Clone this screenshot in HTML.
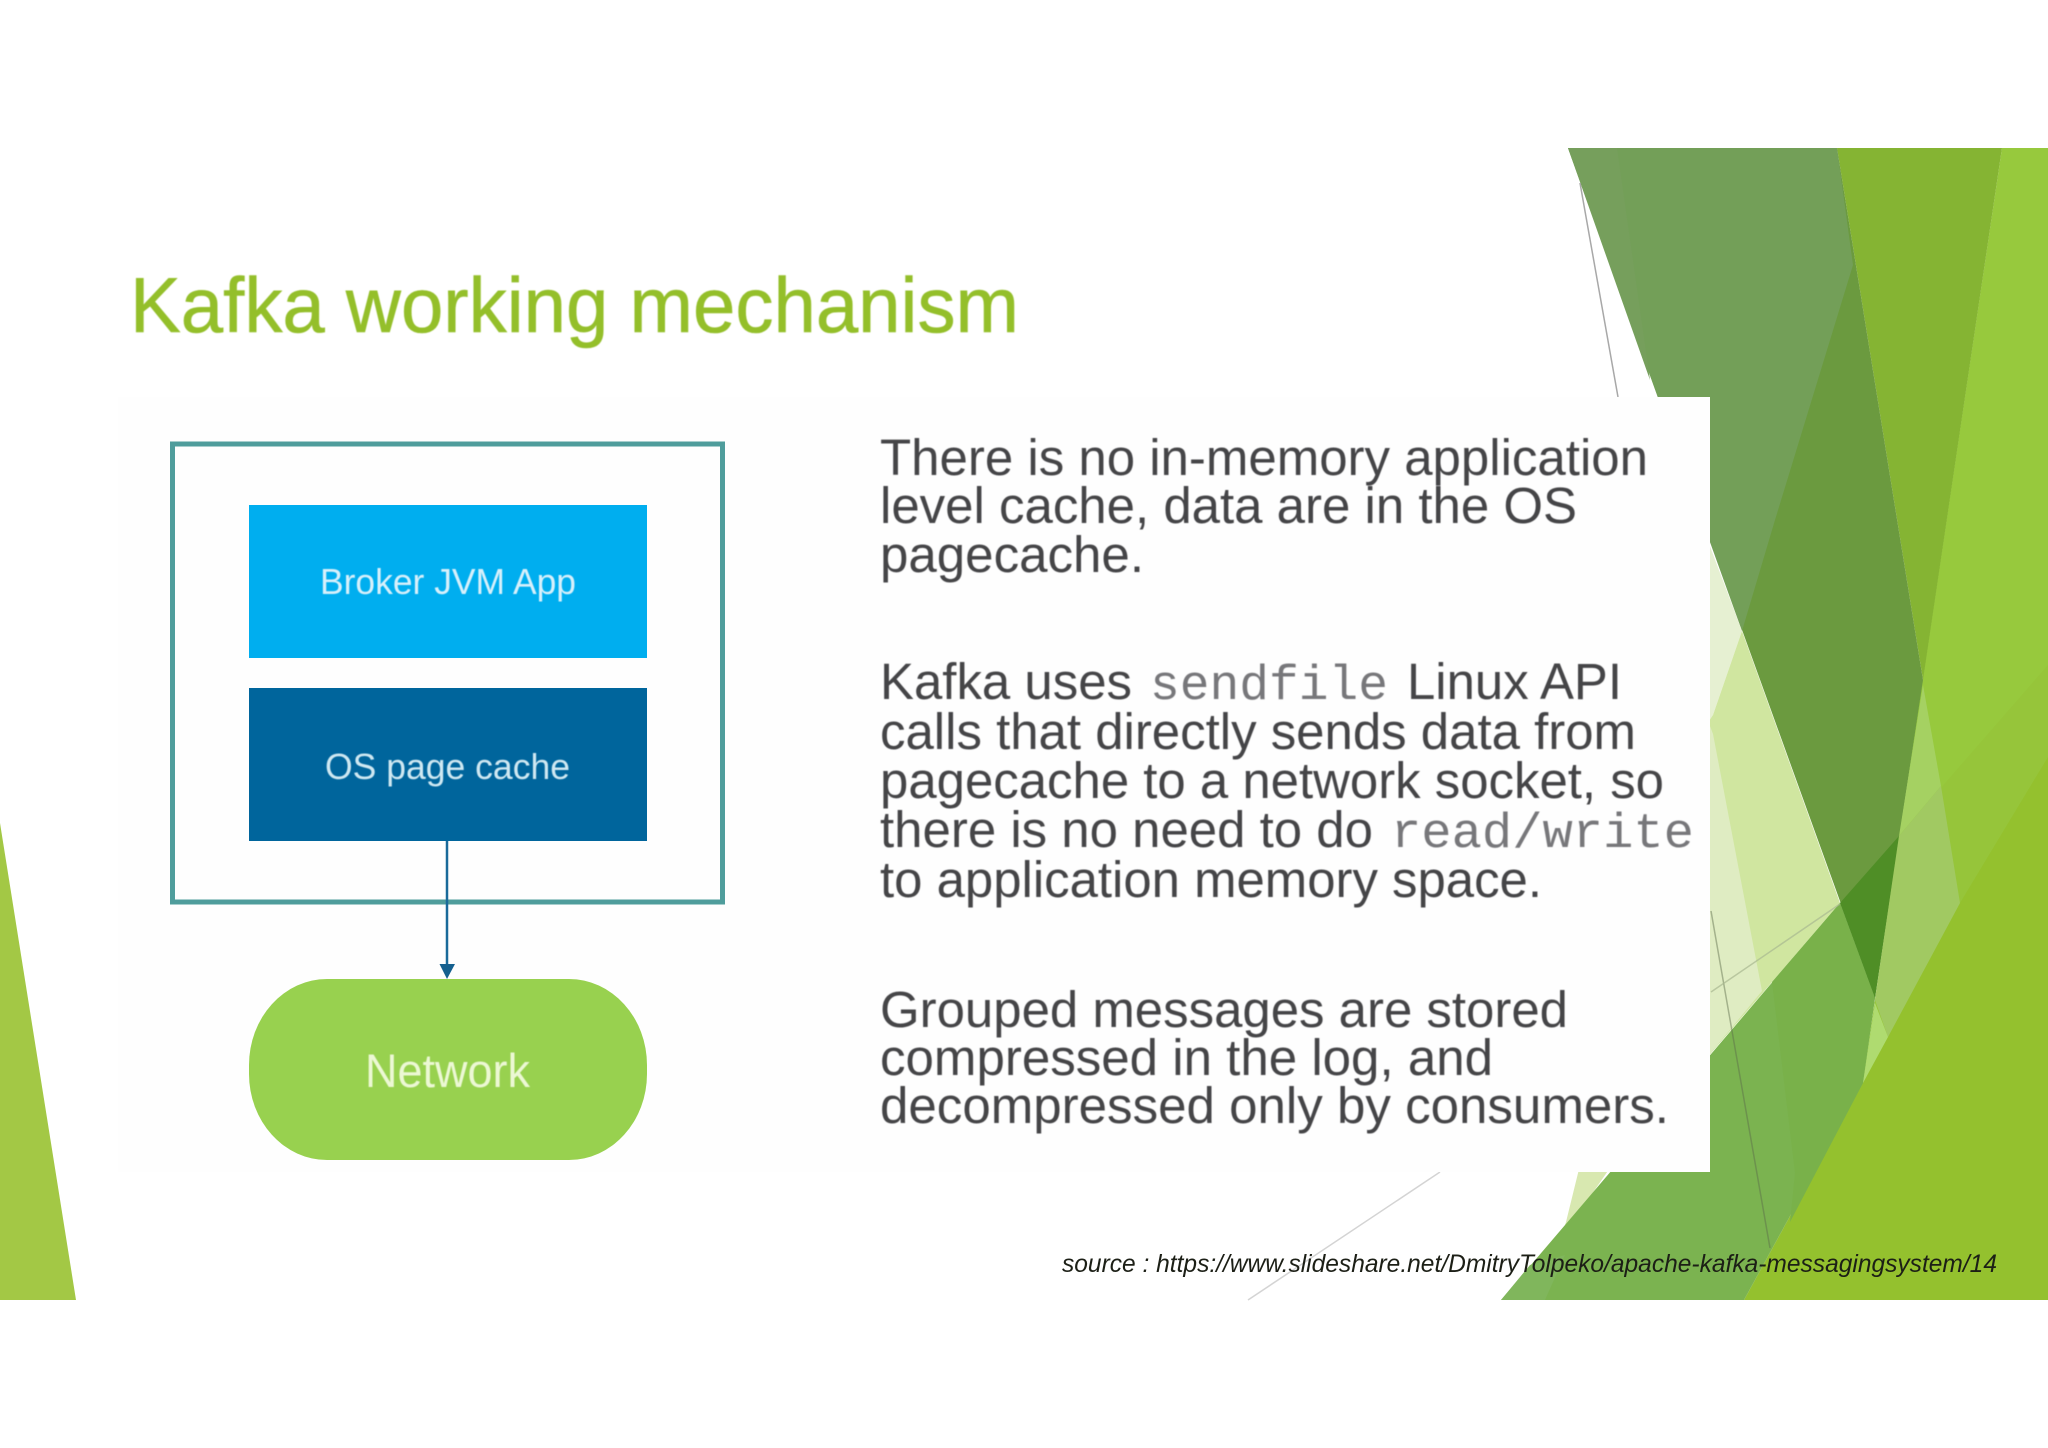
<!DOCTYPE html>
<html><head><meta charset="utf-8"><title>Kafka working mechanism</title>
<style>html,body{margin:0;padding:0;background:#fff;width:2048px;height:1448px;overflow:hidden}svg{display:block}
.b{font-family:"Liberation Sans",sans-serif;font-size:51px;fill:#444447}
.m{font-family:"Liberation Mono",monospace;font-size:49px;fill:#77777a}
</style></head><body>
<svg xmlns="http://www.w3.org/2000/svg" width="2048" height="1448" viewBox="0 0 2048 1448">
<defs><filter id="s" x="-2%" y="-2%" width="104%" height="104%"><feGaussianBlur stdDeviation="0.6"/></filter></defs>
<rect width="2048" height="1448" fill="#fff"/>
<polygon points="0,823 76,1300 0,1300" fill="#a3c845"/>
<!-- right decoration -->
<polygon points="2002,148 2048,148 2048,1300 1746,1300 1863,1083 1875,1000" fill="#97c93d"/>
<polygon points="2048,665 2048,1300 1746,1300 1863,1083 1899,836" fill="#96c53a"/>
<polygon points="2048,757 2048,1300 1744,1300 1863,1083 1960,903" fill="#94c12e"/>
<polygon points="1837,148 2002,148 1923,680" fill="#85b433"/>
<polygon points="1568,148 1837,148 1923,680 1875,998" fill="#6b9a3f"/>
<polygon points="1568,148 1837,148 1853,265 1775,520 1742,631" fill="#739f58"/>
<polygon points="1568,148 1617,148 1650,380" fill="#769f5c"/>
<polygon points="1700,520 1742,631 1713,715 1700,745" fill="#e6f0d2"/>
<polygon points="1713,715 1742,631 1840,903 1700,1066 1700,735" fill="#d0e6a0"/>
<polygon points="1700,700 1713,734 1762,991 1700,1066" fill="#dfecc2"/>
<polygon points="1580,1165 1612,1165 1560,1240 1566,1222" fill="#d8e8b0"/>
<polygon points="1840,903 1875,998 1863,1083 1744,1300 1501,1300" fill="#7bb350"/>
<polygon points="1772,982 1840,903 1875,998 1863,1083 1790,1222 1795,1173" fill="#79b14a"/>
<polygon points="1501,1300 1545,1300 1565,1255 1530,1265" fill="#80b65c"/>
<polygon points="1840,903 1899,836 1875,998" fill="#4f8e26"/>
<polygon points="1923,685 1941,786 1899,836" fill="#a5d162"/>
<polygon points="1941,786 1960,903 1888,1037 1875,1000 1899,836" fill="#a1c962"/>
<polygon points="1875,1003 1888,1037 1863,1083" fill="#afdb70"/>
<line x1="1580" y1="183" x2="1618" y2="397" stroke="#a8a8a8" stroke-width="1.500"/>
<line x1="1711" y1="911" x2="1770" y2="1248" stroke="#5a6a4a" stroke-opacity="0.45" stroke-width="1.500"/>
<line x1="1711" y1="992" x2="1840" y2="904" stroke="#a8b890" stroke-opacity="0.7" stroke-width="1.500"/>
<line x1="1440" y1="1172" x2="1248" y2="1300" stroke="#d4d4d4" stroke-width="1.500"/>
<!-- pasted picture -->
<rect x="118" y="397" width="1592" height="775" fill="#fefefe"/>
<!-- diagram -->
<rect x="172.500" y="444" width="550" height="458" fill="none" stroke="#4f9d9c" stroke-width="5"/>
<rect x="249" y="505" width="398" height="153" fill="#00aeef"/>
<rect x="249" y="688" width="398" height="153" fill="#00659c"/>
<line x1="447" y1="841" x2="447" y2="966" stroke="#1a6a9a" stroke-width="2.500"/>
<polygon points="439.500,964 455,964 447,979" fill="#15608f"/>
<rect x="249" y="979" width="398" height="181" rx="78" ry="86" fill="#98d14f"/>
<g filter="url(#s)">
<g font-family="'Liberation Sans',sans-serif">
<text x="320" y="594" font-size="36" fill="#d7f0fb" textLength="256" lengthAdjust="spacingAndGlyphs">Broker JVM App</text>
<text x="325" y="779" font-size="36" fill="#cfe8f2" textLength="245" lengthAdjust="spacingAndGlyphs">OS page cache</text>
<text x="365" y="1087" font-size="47" fill="#ecf8d4" textLength="165" lengthAdjust="spacingAndGlyphs">Network</text>
<text x="130" y="332" font-size="78" fill="#94bf2b" stroke="#94bf2b" stroke-width="0.6" textLength="889" lengthAdjust="spacingAndGlyphs">Kafka working mechanism</text>
</g>
<!-- body text -->
<text class="b" x="880" y="475" textLength="768" lengthAdjust="spacingAndGlyphs">There is no in-memory application</text>
<text class="b" x="880" y="523" textLength="697" lengthAdjust="spacingAndGlyphs">level cache, data are in the OS</text>
<text class="b" x="880" y="572" textLength="264" lengthAdjust="spacingAndGlyphs">pagecache.</text>
<text class="b" x="880" y="699" textLength="252" lengthAdjust="spacingAndGlyphs">Kafka uses</text>
<text class="m" x="1150" y="699" textLength="238" lengthAdjust="spacingAndGlyphs">sendfile</text>
<text class="b" x="1407" y="699" textLength="215" lengthAdjust="spacingAndGlyphs">Linux API</text>
<text class="b" x="880" y="749" textLength="756" lengthAdjust="spacingAndGlyphs">calls that directly sends data from</text>
<text class="b" x="880" y="798" textLength="784" lengthAdjust="spacingAndGlyphs">pagecache to a network socket, so</text>
<text class="b" x="880" y="847" textLength="493" lengthAdjust="spacingAndGlyphs">there is no need to do</text>
<text class="m" x="1391" y="847" textLength="303" lengthAdjust="spacingAndGlyphs">read/write</text>
<text class="b" x="880" y="897" textLength="662" lengthAdjust="spacingAndGlyphs">to application memory space.</text>
<text class="b" x="880" y="1027" textLength="688" lengthAdjust="spacingAndGlyphs">Grouped messages are stored</text>
<text class="b" x="880" y="1075" textLength="613" lengthAdjust="spacingAndGlyphs">compressed in the log, and</text>
<text class="b" x="880" y="1123" textLength="789" lengthAdjust="spacingAndGlyphs">decompressed only by consumers.</text>
</g>
<text x="1062" y="1272" font-family="'Liberation Sans',sans-serif" font-style="italic" font-size="25" fill="#1c1f16" textLength="935" lengthAdjust="spacingAndGlyphs">source : https://www.slideshare.net/DmitryTolpeko/apache-kafka-messagingsystem/14</text>
</svg>
</body></html>
